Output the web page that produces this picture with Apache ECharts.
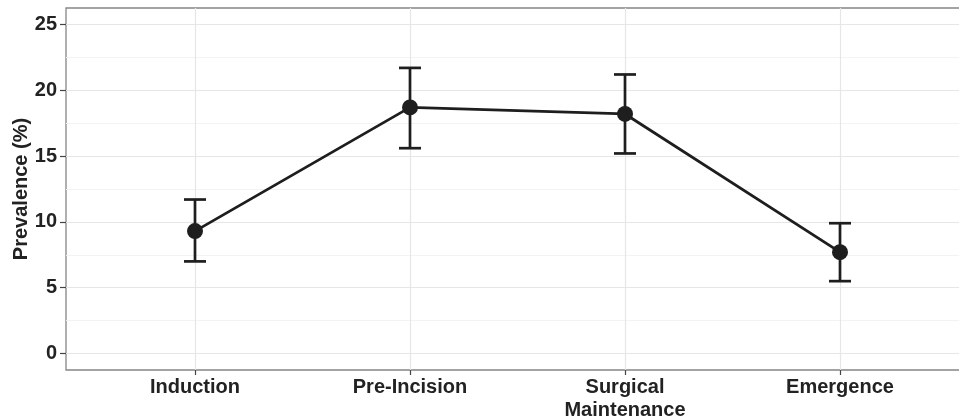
<!DOCTYPE html>
<html>
<head>
<meta charset="utf-8">
<script src="https://cdn.jsdelivr.net/npm/echarts@6/dist/echarts.min.js"></script>
<style>
  html, body { margin: 0; padding: 0; background: #fff; }
  #chart { width: 959px; height: 420px; }
</style>
</head>
<body>
<div id="chart"></div>
<script>
// ---- data ----
const categories = ['Induction', 'Pre-Incision', 'Surgical\nMaintenance', 'Emergence'];
const prevalence = [9.3, 18.7, 18.2, 7.7];
const lowerCI = [7.0, 15.6, 15.2, 5.5];
const upperCI = [11.7, 21.7, 21.2, 9.9];
const yMajorTicks = [0, 5, 10, 15, 20, 25];
const yMinorTicks = [2.5, 7.5, 12.5, 17.5, 22.5];
const yAxisTitle = 'Prevalence (%)';

// ---- build ----
const xPositions = categories.map((c, i) => i + 1);
const pointData = categories.map((c, i) => [xPositions[i], prevalence[i]]);
const errData = categories.map((c, i) => [xPositions[i], lowerCI[i], upperCI[i]]);

const FONT = 'Liberation Sans, Arial, sans-serif';
const TEXT = '#222222';
const INK = '#1e1e1e';

const chart = echarts.init(document.getElementById('chart'), null, { renderer: 'canvas' });

const option = {
  animation: false,
  backgroundColor: '#ffffff',
  grid: {
    left: 66, top: 8, width: 903, bottom: 50,
    outerBoundsMode: 'none',
    show: true, borderColor: '#858585', borderWidth: 1.3,
    backgroundColor: 'transparent', containLabel: false
  },
  xAxis: [{
    type: 'value',
    min: 0.4, max: 4.6,
    axisLine: { show: false, onZero: false },
    axisTick: { show: true, length: 5, lineStyle: { color: '#444', width: 1.2 }, customValues: xPositions },
    axisLabel: {
      show: true, customValues: xPositions, margin: 6,
      fontFamily: FONT, fontWeight: 'bold', fontSize: 20, color: TEXT, lineHeight: 23,
      formatter: v => categories[Math.round(v) - 1] || ''
    },
    splitLine: { show: true, lineStyle: { color: '#e6e6e6', width: 1.2 } }
  }],
  yAxis: [{
    type: 'value',
    min: -1.25, max: 26.25,
    axisLine: { show: false, onZero: false },
    axisTick: { show: true, length: 6, lineStyle: { color: '#444', width: 1.2 }, customValues: yMajorTicks },
    axisLabel: {
      show: true, customValues: yMajorTicks, margin: 9,
      fontFamily: FONT, fontWeight: 'bold', fontSize: 20, color: TEXT
    },
    splitLine: { show: true, lineStyle: { color: '#e6e6e6', width: 1.2 } },
    name: yAxisTitle,
    nameLocation: 'middle',
    nameGap: 35,
    nameMoveOverlap: false,
    nameTextStyle: { fontFamily: FONT, fontWeight: 'bold', fontSize: 20, color: TEXT }
  }, {
    type: 'value',
    min: -1.25, max: 26.25,
    position: 'left',
    axisLine: { show: false, onZero: false },
    axisTick: { show: false, customValues: yMinorTicks },
    axisLabel: { show: false, customValues: yMinorTicks },
    splitLine: { show: true, lineStyle: { color: '#f3f3f3', width: 1.2 } }
  }],
  series: [
    {
      type: 'line',
      data: pointData,
      symbol: 'none',
      lineStyle: { color: INK, width: 2.8 },
      z: 3
    },
    {
      type: 'custom',
      data: errData,
      z: 4,
      renderItem: function (params, api) {
        const x = api.value(0);
        const lo = api.coord([x, api.value(1)]);
        const hi = api.coord([x, api.value(2)]);
        const hw = 11;
        const style = { stroke: INK, lineWidth: 2.7, fill: null };
        return {
          type: 'group',
          children: [
            { type: 'line', shape: { x1: lo[0], y1: lo[1], x2: hi[0], y2: hi[1] }, style: style },
            { type: 'line', shape: { x1: lo[0] - hw, y1: lo[1], x2: lo[0] + hw, y2: lo[1] }, style: style },
            { type: 'line', shape: { x1: hi[0] - hw, y1: hi[1], x2: hi[0] + hw, y2: hi[1] }, style: style }
          ]
        };
      }
    },
    {
      type: 'scatter',
      data: pointData,
      symbol: 'circle',
      symbolSize: 16,
      itemStyle: { color: INK, opacity: 1 },
      z: 5
    }
  ]
};

chart.setOption(option);
</script>
</body>
</html>
